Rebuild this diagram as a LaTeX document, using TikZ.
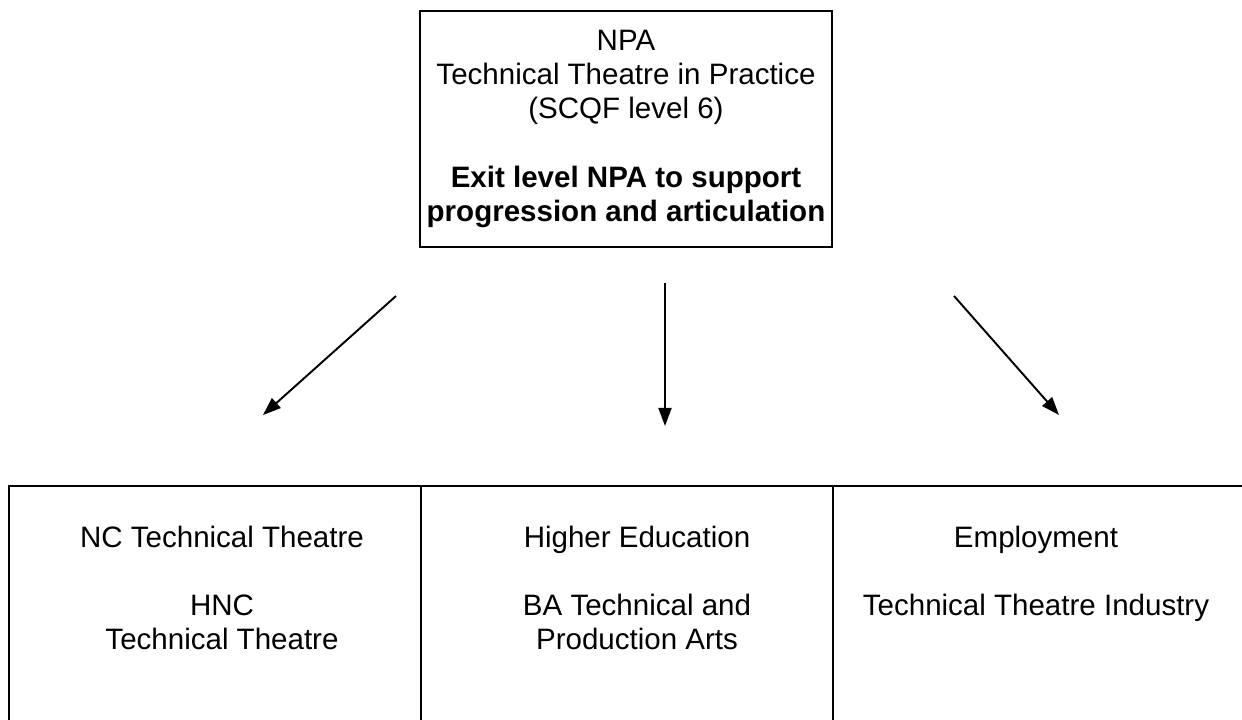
\documentclass[tikz,border=0pt]{standalone}
\usepackage{fontspec}
\setmainfont{Liberation Sans}
\usetikzlibrary{arrows.meta}

\tikzset{
  every node/.style={font=\fontsize{16.8}{19.3}\selectfont},
  box/.style={draw, line width=1.2pt, inner sep=0pt, align=center},
  cell/.style={draw, line width=1.2pt, inner sep=0pt, anchor=north west,
    minimum width=8.24cm, minimum height=5cm},
  celltext/.style={anchor=north, align=center, inner sep=0pt},
  arr/.style={-{Triangle[length=0.36cm, width=0.26cm]}, line width=1.1pt}
}

\begin{document}
\begin{tikzpicture}
                \clip (0,0) rectangle (24.84,14.4);

                % Starting award
                \node[box, minimum width=8.24cm, minimum height=4.72cm] (npa) at (12.52,11.82)
                  {NPA\\Technical Theatre in Practice\\(SCQF level 6)\\[20pt]
                   \textbf{Exit level NPA to support}\\\textbf{progression and articulation}};

                % Progression routes (table row)
                \node[cell] (nc) at (0.16,4.7) {};
                \node[cell] (he) at (8.4,4.7) {};
                \node[cell] (emp) at (16.64,4.7) {};

                \node[celltext] (nctext) at (4.44,3.88)
                  {NC Technical Theatre\\[19.3pt] HNC\\Technical Theatre};
                \node[celltext] (hetext) at (12.74,3.88)
                  {Higher Education\\[19.3pt] BA Technical and\\Production Arts};
                \node[celltext] (emptext) at (20.72,3.88)
                  {Employment\\[19.3pt] Technical Theatre Industry};

                % Arrows
                \coordinate (a1) at (7.92,8.48);
                \coordinate (b1) at (5.26,6.1);
                \coordinate (a2) at (13.3,8.74);
                \coordinate (b2) at (13.3,5.88);
                \coordinate (a3) at (19.08,8.48);
                \coordinate (b3) at (21.18,6.1);

                \draw[arr] (a1) -- (b1);
                \draw[arr] (a2) -- (b2);
                \draw[arr] (a3) -- (b3);
            \end{tikzpicture}
\end{document}
